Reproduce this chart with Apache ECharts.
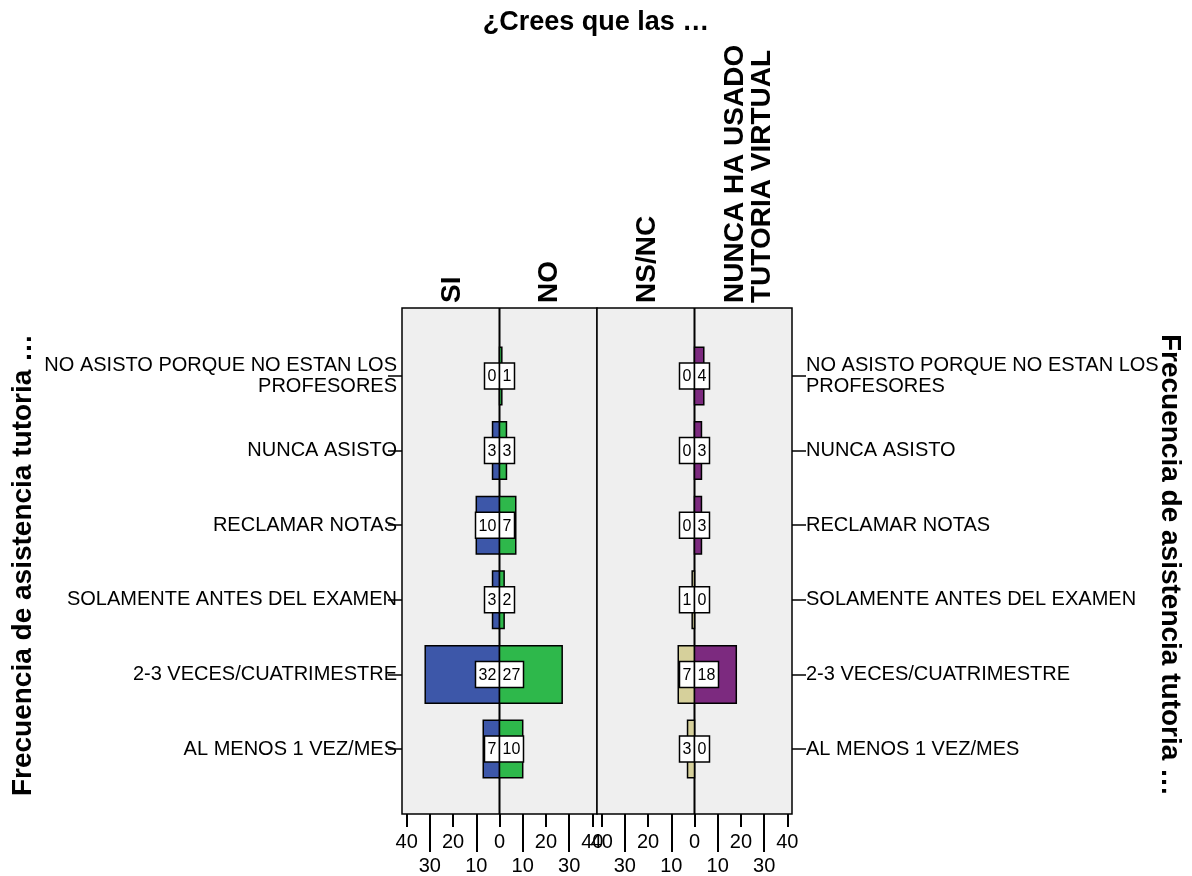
<!DOCTYPE html>
<html>
<head>
<meta charset="utf-8">
<script src="https://cdn.jsdelivr.net/npm/echarts@6/dist/echarts.min.js"></script>
<style>
  html, body { margin: 0; padding: 0; background: #fff; }
  #chart { width: 1192px; height: 876px; }
</style>
</head>
<body>
<div id="chart"></div>
<script>
// categorías (filas)
const categories = [
    'NO ASISTO PORQUE NO ESTAN LOS\nPROFESORES',
    'NUNCA ASISTO',
    'RECLAMAR NOTAS',
    'SOLAMENTE ANTES DEL EXAMEN',
    '2-3 VECES/CUATRIMESTRE',
    'AL MENOS 1 VEZ/MES'
]
// respuestas a "¿Crees que las ...?"
const groupNames = ['SI', 'NO', 'NS/NC', 'NUNCA HA USADO\nTUTORIA VIRTUAL']
const siValues = [0, 3, 10, 3, 32, 7]
const noValues = [1, 3, 7, 2, 27, 10]
const nsncValues = [0, 0, 0, 1, 7, 3]
const nuncaValues = [4, 3, 3, 0, 18, 0]
// marcas del eje inferior
const majorTicks = [-40, -20, 0, 20, 40]
const minorTicks = [-30, -10, 10, 30]

const FONT = '"Liberation Sans", Arial, sans-serif'
const rowIdx = categories.map((c, i) => i)
const yMin = -0.91
const yMax = 5.87

const colors = ['#3d57a9', '#2eb84b', '#d6d09b', '#7c2a7f']

const chart = echarts.init(document.getElementById('chart'))

const panelGrid = (left) => ({
    left: left, top: 308, width: 195, height: 506,
    show: true, backgroundColor: '#efefef', borderColor: '#000', borderWidth: 1.5
})
const overlayGrid = (left) => ({ left: left, top: 308, width: 195, height: 506 })

const xMajor = (grid) => ({
    type: 'value', gridIndex: grid, min: -42, max: 42, position: 'bottom',
    axisLine: { show: false, onZero: false }, splitLine: { show: false },
    axisTick: { customValues: majorTicks, length: 13, lineStyle: { color: '#000', width: 2 } },
    axisLabel: { customValues: majorTicks, formatter: v => Math.abs(v), fontSize: 20, fontFamily: FONT, color: '#000', margin: 18 }
})
const xMinor = (grid) => ({
    type: 'value', gridIndex: grid, min: -42, max: 42, position: 'bottom',
    axisLine: { show: false, onZero: false }, splitLine: { show: false },
    axisTick: { customValues: minorTicks, length: 38, lineStyle: { color: '#000', width: 2 } },
    axisLabel: { customValues: minorTicks, formatter: v => Math.abs(v), fontSize: 20, fontFamily: FONT, color: '#000', margin: 42 }
})
const yCat = (grid, pos, margin) => ({
    type: 'value', gridIndex: grid, min: yMin, max: yMax, inverse: true, position: pos,
    axisLine: { show: false, onZero: false }, splitLine: { show: false },
    axisTick: { customValues: rowIdx, length: 14, lineStyle: { color: '#000', width: 1.5 } },
    axisLabel: {
        customValues: rowIdx, formatter: v => categories[v],
        fontSize: 20, fontFamily: FONT, color: '#000', margin: margin, lineHeight: 21
    }
})
const yHidden = (grid) => ({ type: 'value', gridIndex: grid, min: yMin, max: yMax, inverse: true, show: false })

// barras de la pirámide con sus cajas de valores
const renderPyramid = (leftColor, rightColor) => (params, api) => {
    const i = api.value(0)
    const l = api.value(1)
    const r = api.value(2)
    const c = api.coord([0, i])
    const yTop = api.coord([0, i - 0.385])[1]
    const yBot = api.coord([0, i + 0.385])[1]
    const xl = api.coord([-l, i])[0]
    const xr = api.coord([r, i])[0]
    const children = []
    const barStyle = { stroke: '#000', lineWidth: 1.5 }
    if (l > 0) {
        children.push({ type: 'rect', shape: { x: xl, y: yTop, width: c[0] - xl, height: yBot - yTop },
            style: Object.assign({ fill: leftColor }, barStyle) })
    }
    if (r > 0) {
        children.push({ type: 'rect', shape: { x: c[0], y: yTop, width: xr - c[0], height: yBot - yTop },
            style: Object.assign({ fill: rightColor }, barStyle) })
    }
    const wl = String(l).length > 1 ? 24 : 15
    const wr = String(r).length > 1 ? 24 : 15
    const boxStyle = { fill: '#fff', stroke: '#000', lineWidth: 1.5 }
    children.push({ type: 'rect', shape: { x: c[0] - wl, y: c[1] - 13, width: wl, height: 26 }, style: boxStyle })
    children.push({ type: 'rect', shape: { x: c[0], y: c[1] - 13, width: wr, height: 26 }, style: boxStyle })
    const txt = { fontSize: 16, fontFamily: FONT, fill: '#000', align: 'center', verticalAlign: 'middle' }
    children.push({ type: 'text', x: c[0] - wl / 2, y: c[1] + 1, style: Object.assign({ text: String(l) }, txt) })
    children.push({ type: 'text', x: c[0] + wr / 2, y: c[1] + 1, style: Object.assign({ text: String(r) }, txt) })
    return { type: 'group', children: children }
}

const centerLine = (xi, yi) => ({
    type: 'line', xAxisIndex: xi, yAxisIndex: yi, symbol: 'none', silent: true, z: 1,
    lineStyle: { color: '#000', width: 2 },
    data: [[0, yMin], [0, yMax]]
})

const headerText = (x, text) => ({
    type: 'text', x: x, y: 303, rotation: Math.PI / 2,
    style: { text: text, fontSize: 28, fontWeight: 'bold', fontFamily: FONT, fill: '#000',
        align: 'left', verticalAlign: 'middle', lineHeight: 27 }
})

const sideTitle = (x, rot) => ({
    type: 'text', x: x, y: 565, rotation: rot,
    style: { text: 'Frecuencia de asistencia tutoria …', fontSize: 28, fontWeight: 'bold', fontFamily: FONT,
        fill: '#000', align: 'center', verticalAlign: 'middle' }
})

const option = {
    animation: false,
    title: {
        text: '¿Crees que las …', left: 'center', top: 4,
        textStyle: { fontSize: 27, fontWeight: 'bold', fontFamily: FONT, color: '#000' }
    },
    grid: [panelGrid(402), panelGrid(597), overlayGrid(402), overlayGrid(597)],
    xAxis: [xMajor(0), xMajor(1), xMinor(2), xMinor(3)],
    yAxis: [yCat(0, 'left', 5), yCat(1, 'right', 14), yHidden(2), yHidden(3)],
    graphic: [
        headerText(452, groupNames[0]),
        headerText(549, groupNames[1]),
        headerText(647, groupNames[2]),
        headerText(749, groupNames[3]),
        sideTitle(23, Math.PI / 2),
        sideTitle(1170, -Math.PI / 2)
    ],
    series: [
        centerLine(0, 0),
        centerLine(1, 1),
        {
            type: 'custom', xAxisIndex: 0, yAxisIndex: 0, z: 2,
            renderItem: renderPyramid(colors[0], colors[1]),
            encode: { x: [1, 2], y: 0 },
            data: rowIdx.map(i => [i, siValues[i], noValues[i]])
        },
        {
            type: 'custom', xAxisIndex: 1, yAxisIndex: 1, z: 2,
            renderItem: renderPyramid(colors[2], colors[3]),
            encode: { x: [1, 2], y: 0 },
            data: rowIdx.map(i => [i, nsncValues[i], nuncaValues[i]])
        }
    ]
}

chart.setOption(option)
</script>
</body>
</html>
